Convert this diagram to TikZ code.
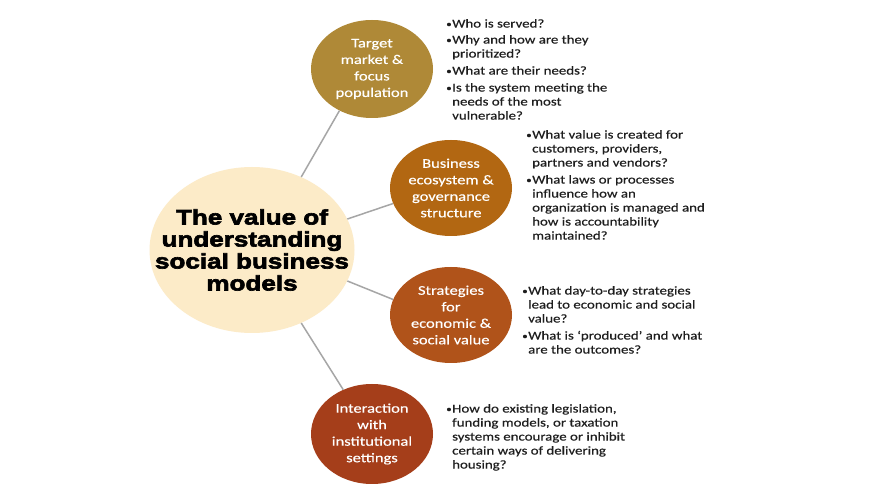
\documentclass[tikz,border=0pt]{standalone}
\usepackage{fontspec}
\usetikzlibrary{shapes.geometric}
\newfontfamily\bodyfont{Carlito}[FakeStretch=1.24,FakeBold=0.4]
\newfontfamily\titlefont{Liberation Sans}[FakeStretch=1.24,BoldFeatures={FakeBold=3}]
\definecolor{cTarget}{HTML}{AF8937}
\definecolor{cBusiness}{HTML}{B26712}
\definecolor{cStrat}{HTML}{B0531A}
\definecolor{cInter}{HTML}{A53E1A}
\definecolor{cCenter}{HTML}{FCEBC8}
\definecolor{linegray}{HTML}{A6A6A6}
\definecolor{textgray}{HTML}{1E1E1E}
\newcommand{\bl}{\makebox[6pt][l]{\raisebox{0.5pt}{\fontsize{9}{9}\selectfont •}}}
\newcommand{\ind}{\hspace*{6pt}}
\begin{document}
\begin{tikzpicture}[x=1pt,y=-1pt,
  bubble/.style={ellipse, draw=none, minimum width=122pt, minimum height=98pt, inner sep=0pt, text=white, align=center, font=\bodyfont\fontsize{13.3}{16.5}\selectfont},
  qtext/.style={anchor=north west, inner sep=0pt, align=left, text=textgray, font=\bodyfont\fontsize{12}{14}\selectfont},
  link/.style={draw=linegray, line width=1.5pt}]
\fill[white] (0,0) rectangle (892,502);
\useasboundingbox (0,0) rectangle (892,502);
\node[ellipse, fill=cCenter, minimum width=205pt, minimum height=166pt, inner sep=0pt] (c) at (252,250) {};
\node[align=center, inner sep=0pt, font=\titlefont\bfseries\fontsize{21}{22}\selectfont] (ct) at (c) {The value of\\understanding\\social business\\models};
\node[bubble, fill=cTarget] (t) at (372,69) {Target\\market \&\\focus\\population};
\node[bubble, fill=cBusiness, minimum height=96pt] (b) at (451,188) {Business\\ecosystem \&\\governance\\structure};
\node[bubble, fill=cStrat, minimum height=96pt] (s) at (451,315) {Strategies\\for\\economic \&\\social value};
\node[bubble, fill=cInter, minimum height=100pt] (i) at (372,434) {Interaction\\with\\institutional\\settings};
\draw[link] (c.56.5) -- (t.232);
\draw[link] (c.18) -- (b.195);
\draw[link] (c.-18.6) -- (s.165);
\draw[link] (c.-56.5) -- (i.123);
\node[qtext] (q1) at (446,19) {\bl Who is served?\\[2pt]
\bl Why and how are they\\
\ind prioritized?\\[3pt]
\bl What are their needs?\\[3pt]
\bl Is the system meeting the\\
\ind needs of the most\\
\ind vulnerable?};
\node[qtext] (q2) at (526,130) {\bl What value is created for\\
\ind customers, providers,\\
\ind partners and vendors?\\[3pt]
\bl What laws or processes\\
\ind influence how an\\
\ind organization is managed and\\
\ind how is accountability\\
\ind maintained?};
\node[qtext] (q3) at (522,286) {\bl What day-to-day strategies\\
\ind lead to economic and social\\
\ind value?\\[3pt]
\bl What is ‘produced’ and what\\
\ind are the outcomes?};
\node[qtext] (q4) at (446,404) {\bl How do existing legislation,\\
\ind funding models, or taxation\\
\ind systems encourage or inhibit\\
\ind certain ways of delivering\\
\ind housing?};
\end{tikzpicture}
\end{document}
